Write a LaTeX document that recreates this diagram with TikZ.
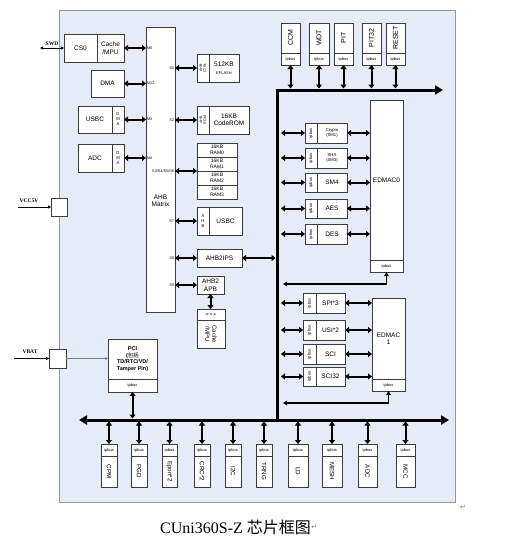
\documentclass[tikz,border=0pt]{standalone}
\usepackage{fontspec}
\setmainfont{Liberation Sans}
\newfontfamily\serifT{Liberation Serif}
\newfontfamily\cjk{Noto Sans CJK SC}
\newfontfamily\dvs{DejaVu Sans}
\usetikzlibrary{arrows.meta}
\definecolor{panelbg}{RGB}{230,236,247}
\definecolor{panelln}{RGB}{150,150,150}
\definecolor{boxln}{RGB}{60,60,60}
\tikzset{
 pbox/.style={draw=boxln, fill=white, line width=0.6pt, inner sep=0pt, outer sep=0pt, align=center, font=\fontsize{6.5}{7.5}\selectfont},
 ipf/.style={font=\fontsize{4}{4.5}\selectfont},
 smallf/.style={font=\fontsize{4.2}{5}\selectfont},
 ramf/.style={font=\fontsize{5}{5.6}\selectfont},
 lab/.style={inner sep=0pt, align=center, font=\fontsize{6.5}{7.5}\selectfont},
 rotlab/.style={inner sep=0pt, align=center, rotate=90, font=\fontsize{4.2}{4.6}\selectfont},
 rotname/.style={inner sep=0pt, align=center, rotate=90, font=\fontsize{7}{8}\selectfont},
 botname/.style={inner sep=0pt, align=center, rotate=-90, font=\fontsize{6.2}{7}\selectfont},
 port/.style={inner sep=0.3pt, font=\fontsize{3.8}{4}\selectfont},
 dblarrow/.style={line width=2pt, {Triangle[length=4pt,width=6pt]}-{Triangle[length=4pt,width=6pt]}},
 busline/.style={line width=3pt, line join=miter},
 retarrow/.style={line width=1.3pt, line join=miter, {Triangle[length=4pt,width=4.5pt]}-{Triangle[length=4pt,width=4.5pt]}},
 inarrow/.style={line width=0.6pt, -{Triangle[length=3pt,width=3pt]}},
 sidelab/.style={inner sep=0pt, font=\serifT\bfseries\fontsize{5.5}{6}\selectfont},
}
\newcommand\bx[7][]{\node[pbox,#1,anchor=north west,minimum width={(#5-#3)*1pt},minimum height={(#6-#4)*1pt}] (#2) at (#3,#4) {#7};}
\begin{document}
\begin{tikzpicture}[x=1pt,y=-1pt]
\useasboundingbox (0,0) rectangle (508,546);
\fill[white] (0,0) rectangle (508,546);
\node[draw=panelln, fill=panelbg, line width=0.8pt, anchor=north west, minimum width=396pt, minimum height=492pt, inner sep=0pt] (panel) at (59,10) {};

% bus coordinates
\coordinate (bustop) at (277,90);
\coordinate (busbot) at (277,420);
\coordinate (busR) at (443,90);
\coordinate (bbL) at (79,420);
\coordinate (bbR) at (449,420);

% masters
\bx{cs0}{64}{34}{97}{62}{CS0}
\bx{cmpu}{97}{34}{124}{62}{Cache\\/MPU}
\bx{dma}{91}{70}{124}{97}{DMA}
\bx{usbm}{78}{106}{112}{133}{USBC}
\bx[smallf]{usbdma}{112}{106}{124}{133}{D\\M\\A}
\bx{adcm}{78}{144}{112}{172}{ADC}
\bx[smallf]{adcdma}{112}{144}{124}{172}{D\\M\\A}

% matrix
\bx{matrix}{146}{27}{175}{312}{}
\node[lab] (mtxt) at (160.5,201) {AHB\\Matrix};

% master arrows
\draw[dblarrow] (cmpu.east) -- (cmpu.east -| matrix.west);
\draw[dblarrow] (dma.east) -- (dma.east -| matrix.west);
\draw[dblarrow] (usbdma.east) -- (usbdma.east -| matrix.west);
\draw[dblarrow] (adcdma.east) -- (adcdma.east -| matrix.west);
\node[port, anchor=west] (pm0) at (146.5,48) {M0};
\node[port, anchor=west] (pm12) at (146.5,83.5) {M12};
\node[port, anchor=west] (pm3) at (146.5,119.5) {M3};
\node[port, anchor=west] (pm4) at (146.5,158) {M4};

% slaves
\bx{eflctl}{197}{54}{209}{82}{}
\node[rotlab, font=\fontsize{3.6}{4}\selectfont] (eflctlt) at (eflctl) {AHB\\CTRL};
\bx{eflash}{209}{54}{239}{82}{\fontsize{6.5}{7.5}\selectfont 512KB\\\fontsize{4}{5}\selectfont EFLASH}
\bx{romctl}{197}{106}{209}{134}{}
\node[rotlab, font=\fontsize{3.6}{4}\selectfont] (romctlt) at (romctl) {AHB\\ROM};
\bx{coderom}{209}{106}{249}{134}{16KB\\CodeROM}
\bx[ramf]{ram0}{197}{143}{237}{157}{16KB\\RAM0}
\bx[ramf]{ram1}{197}{157}{237}{171}{16KB\\RAM1}
\bx[ramf]{ram2}{197}{171}{237}{185}{16KB\\RAM2}
\bx[ramf]{ram3}{197}{185}{237}{199}{16KB\\RAM3}
\bx[smallf]{usbahb}{197}{207}{209}{235}{A\\H\\B}
\bx{usbs}{209}{207}{242}{235}{USBC}
\bx{ips}{197}{249}{242}{267}{AHB2IPS}
\bx{apb}{197}{276}{224}{294}{AHB2\\APB}
\bx{apbtop}{197}{309}{225}{320}{}
\node[inner sep=0pt, align=center, rotate=-90, font=\fontsize{3.6}{3.8}\selectfont] (apbtopt) at (apbtop) {A\\P\\B};
\bx{apbcache}{197}{320}{225}{348}{}
\node[inner sep=0pt, align=center, rotate=-90, font=\fontsize{6}{7}\selectfont] (apbcachet) at (apbcache) {Cache\\/MPU};

% slave arrows
\draw[dblarrow] (matrix.east |- eflctl.west) -- (eflctl.west);
\draw[dblarrow] (matrix.east |- romctl.west) -- (romctl.west);
\draw[dblarrow] (matrix.east |- ram1.south west) -- (ram1.south west);
\draw[dblarrow] (matrix.east |- usbahb.west) -- (usbahb.west);
\draw[dblarrow] (matrix.east |- ips.west) -- (ips.west);
\draw[dblarrow] (matrix.east |- apb.west) -- (apb.west);
\draw[dblarrow] (apb.south) -- (apb.south |- apbtop.north);
\node[port, anchor=east] (ps0) at (174.5,68) {S0};
\node[port, anchor=east] (ps2) at (174.5,120) {S2};
\node[port, anchor=east] (ps3) at (174.5,171) {S3/S4/S5/S6};
\node[port, anchor=east] (ps7) at (174.5,221) {S7};
\node[port, anchor=east] (ps8) at (174.5,258) {S8};
\node[port, anchor=east] (ps9) at (174.5,285) {S9};

% buses
\draw[busline, -{Triangle[length=8pt,width=9pt]}] (busbot) -- (bustop) -- (busR);
\draw[busline, {Triangle[length=8pt,width=9pt]}-{Triangle[length=8pt,width=9pt]}] (bbL) -- (bbR);
\draw[dblarrow, shorten >=1.5pt] (ips.east) -- (ips.east -| bustop);

% top peripherals
\foreach \n/\xa/\xb/\t in {ccm/281/300/CCM, wdt/309/329/WDT, pit/334/353/PIT, pitb/362/381/PIT32, reset/386/405/RESET}{
  \bx{\n}{\xa}{23}{\xb}{53}{}
  \node[rotname] (\n t) at (\n) {\t};
  \bx[ipf]{\n ip}{\xa}{53}{\xb}{65}{ipbus}
  \draw[dblarrow, shorten >=1.5pt] (\n ip.south) -- (\n ip.south |- bustop);
}

% crypto group
\bx{crip}{305}{123}{317}{143}{}
\bx[smallf]{cr}{317}{123}{347}{143}{Crypto\\(SM1)}
\bx{shaip}{305}{148}{317}{168}{}
\bx[smallf]{sha}{317}{148}{347}{168}{SHA\\(SM3)}
\bx{smfip}{305}{173}{317}{192}{}
\bx{smf}{317}{173}{347}{192}{SM4}
\bx{aesip}{305}{199}{317}{218}{}
\bx{aes}{317}{199}{347}{218}{AES}
\bx{desip}{305}{224}{317}{244}{}
\bx{des}{317}{224}{347}{244}{DES}
\bx{edmz}{370}{100}{403}{260}{EDMAC0}
\bx[ipf]{edmzip}{370}{260}{403}{272}{ipbus}
\foreach \n in {cr,sha,smf,aes,des}{
  \node[rotlab] (\n ipt) at (\n ip) {ipbus};
  \draw[dblarrow, shorten <=4pt] (\n ip.west -| bustop) -- (\n ip.west);
  \draw[dblarrow] (\n.east) -- (\n.east -| edmz.west);
}
\coordinate (retz) at (283,284);
\draw[retarrow] (edmzip.south) |- (retz);

% EDMAC1 group
\bx{spiip}{303}{293}{316}{313}{}
\bx{spi}{316}{293}{345}{313}{SPI*3}
\bx{usiip}{303}{320}{316}{340}{}
\bx{usi}{316}{320}{345}{340}{USI*2}
\bx{sciip}{303}{344}{316}{364}{}
\bx{sci}{316}{344}{345}{364}{SCI}
\bx{scitip}{303}{367}{316}{386}{}
\bx{scit}{316}{367}{345}{386}{SCI32}
\bx{edmo}{372}{298}{405}{379}{EDMAC\\1}
\bx[ipf]{edmoip}{372}{379}{405}{391}{ipbus}
\foreach \n in {spi,usi,sci,scit}{
  \node[rotlab] (\n ipt) at (\n ip) {ipbus};
  \draw[dblarrow, shorten <=4pt] (\n ip.west -| bustop) -- (\n ip.west);
  \draw[dblarrow] (\n.east) -- (\n.east -| edmo.west);
}
\coordinate (reto) at (283,403);
\draw[retarrow] (edmoip.south) |- (reto);

% PCI
\bx[font=\bfseries\fontsize{5.5}{6.5}\selectfont]{pci}{108}{339}{157}{379}{PCI\\({\cjk\mdseries 包括}\\TD/RTC/VD/\\Tamper Pin)}
\bx[ipf]{pciip}{108}{379}{157}{392}{ipbus}
\draw[dblarrow, shorten >=1.5pt] (pciip.south) -- (pciip.south |- bbL);

% bottom peripherals
\foreach \n/\xa/\xb/\t in {cpm/101/117/CPM, pgd/131/147/PGD, eport/162/177/Eport*2, crc/194/210/CRC*2, iic/225/241/I2C, trng/256/272/TRNG, ld/288/308/LD, mesh/322/342/MESH, adcb/358/377/ADC, mcc/396/415/MCC}{
  \bx[ipf]{\n ip}{\xa}{444}{\xb}{456}{ipbus}
  \bx{\n}{\xa}{456}{\xb}{487}{}
  \node[botname] (\n t) at (\n) {\t};
  \draw[dblarrow, shorten >=1.5pt] (\n ip.north) -- (\n ip.north |- bbL);
}

% external inputs
\bx{vccbox}{51}{198}{67}{216}{}
\bx{vbatbox}{49}{349}{66}{368}{}
\coordinate (swdin) at (40,48);
\coordinate (vccin) at (18,207);
\coordinate (vbatin) at (14,358.5);
\draw[line width=0.6pt, {Triangle[length=3pt,width=3pt]}-{Triangle[length=3pt,width=3pt]}] (swdin) -- (cs0.west);
\draw[inarrow] (vccin) -- (vccbox.west);
\draw[inarrow] (vbatin) -- (vbatbox.west);
\draw[inarrow, draw=gray] (vbatbox.east) -- (vbatbox.east -| pci.west);
\node[sidelab] (swdl) at (52,43.5) {SWD};
\node[sidelab] (vccl) at (29,201) {VCC5V};
\node[sidelab] (vbatl) at (30,352) {VBAT};

% title and marks
\node[inner sep=0pt, anchor=west] (title) at (160,527) {\serifT\fontsize{16}{18}\selectfont CUni360S-Z {\cjk\fontsize{16}{18}\selectfont 芯片框图}};
\node[inner sep=0pt, anchor=west, text=gray, font=\dvs\fontsize{7}{8}\selectfont] (markt) at (title.east) {↵};
\node[inner sep=0pt, text=gray, font=\dvs\fontsize{7}{8}\selectfont] (markp) at (463,507) {↵};
\end{tikzpicture}
\end{document}
